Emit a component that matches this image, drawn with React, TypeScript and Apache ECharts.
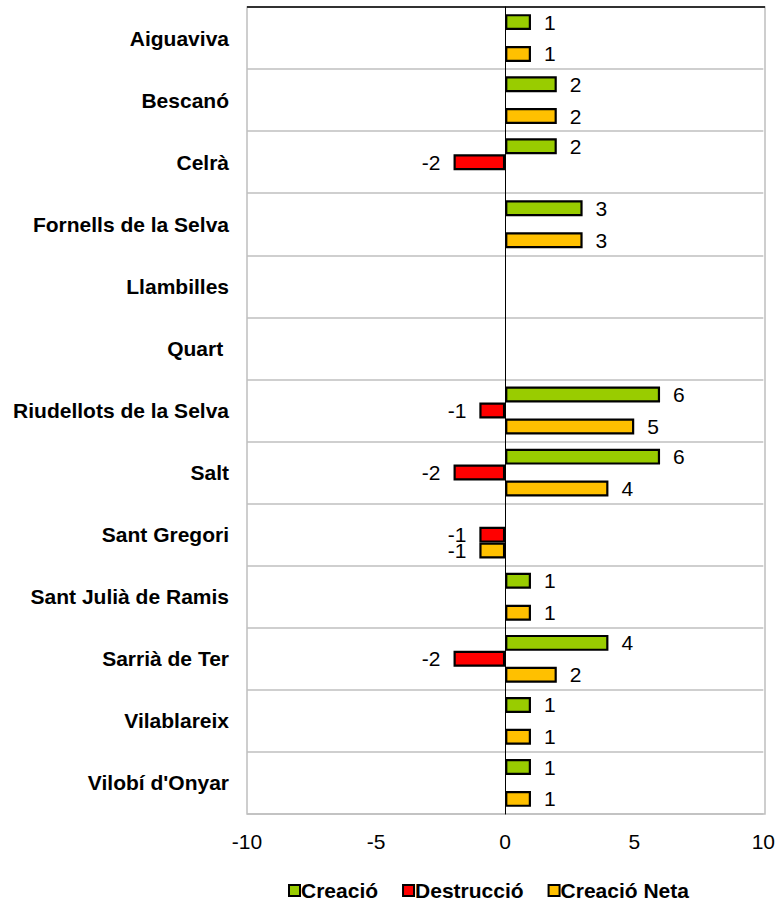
import React, { useEffect, useRef } from "react";
import * as echarts from "echarts";

const categories = [
  "Aiguaviva",
  "Bescanó",
  "Celrà",
  "Fornells de la Selva",
  "Llambilles",
  "Quart ",
  "Riudellots de la Selva",
  "Salt",
  "Sant Gregori",
  "Sant Julià de Ramis",
  "Sarrià de Ter",
  "Vilablareix",
  "Vilobí d'Onyar",
];
const creacio = [1, 2, 2, 3, 0, 0, 6, 6, 0, 1, 4, 1, 1];
const destruccio = [0, 0, -2, 0, 0, 0, -1, -2, -1, 0, -2, 0, 0];
const neta = [1, 2, 0, 3, 0, 0, 5, 4, -1, 1, 2, 1, 1];
const seriesNames = ["Creació", "Destrucció", "Creació Neta"];
const colors = ["#99CC00", "#FF0000", "#FFC000"];

const FONT = "'Liberation Sans', Arial, sans-serif";
const FS = 21;

function toData(arr: number[]) {
  return arr.map((v) =>
    v === 0
      ? null
      : {
          value: v,
          label: { position: v < 0 ? "left" : "right" },
        }
  );
}

export default function App() {
  const ref = useRef<HTMLDivElement>(null);
  useEffect(() => {
    if (!ref.current) return;
    const chart = echarts.init(ref.current, null, { renderer: "svg" });
    const mk = (name: string, arr: number[], color: string) => ({
      name,
      type: "bar",
      data: toData(arr),
      barGap: "0%",
      barCategoryGap: "23%",
      itemStyle: { color, borderColor: "#000", borderWidth: 2.2 },
      label: {
        show: true,
        distance: 13,
        color: "#000",
        fontSize: FS,
        lineHeight: 15,
        fontFamily: FONT,
      },
    });
    chart.setOption({
      animation: false,
      backgroundColor: "#fff",
      grid: { left: 247, right: 13, top: 7, bottom: 89, containLabel: false },
      legend: {
        top: 875,
        left: 283,
        itemWidth: 11,
        itemHeight: 11,
        itemGap: 24,
        icon: "rect",
        textStyle: { fontFamily: FONT, fontWeight: "bold", fontSize: FS, color: "#000", padding: [0, 0, 0, -4] },
        data: seriesNames.map((n, i) => ({
          name: n,
          itemStyle: { color: colors[i], borderColor: "#000", borderWidth: 2 },
        })),
      },
      xAxis: {
        type: "value",
        min: -10,
        max: 10,
        interval: 5,
        position: "bottom",
        axisLine: { show: false },
        axisTick: { show: false },
        splitLine: { show: false },
        axisLabel: { fontFamily: FONT, fontSize: FS, color: "#000", margin: 17 },
      },
      yAxis: {
        type: "category",
        data: categories,
        inverse: true,
        axisLine: { show: true, onZero: true, lineStyle: { color: "#000", width: 1 } },
        axisTick: { show: false },
        axisLabel: {
          fontFamily: FONT,
          fontWeight: "bold",
          fontSize: FS,
          color: "#000",
          margin: 18,
          position: "left",
        },
        splitLine: { show: true, lineStyle: { color: "#BFBFBF", width: 1.5 } },
      },
      graphic: [
        {
          type: "rect",
          shape: { x: 247, y: 7, width: 518, height: 807 },
          style: { fill: "none", stroke: "#BFBFBF", lineWidth: 1.5 },
          silent: true,
          z: 0,
        },
        {
          type: "line",
          shape: { x1: 247, y1: 7, x2: 765, y2: 7 },
          style: { stroke: "#000", lineWidth: 1.5 },
          silent: true,
          z: 10,
        },
      ],
      series: [
        mk(seriesNames[0], creacio, colors[0]),
        mk(seriesNames[1], destruccio, colors[1]),
        mk(seriesNames[2], neta, colors[2]),
      ],
    });
    return () => chart.dispose();
  }, []);
  return (
    <div
      ref={ref}
      style={{ position: "fixed", left: 0, top: 0, width: 778, height: 903 }}
    />
  );
}
